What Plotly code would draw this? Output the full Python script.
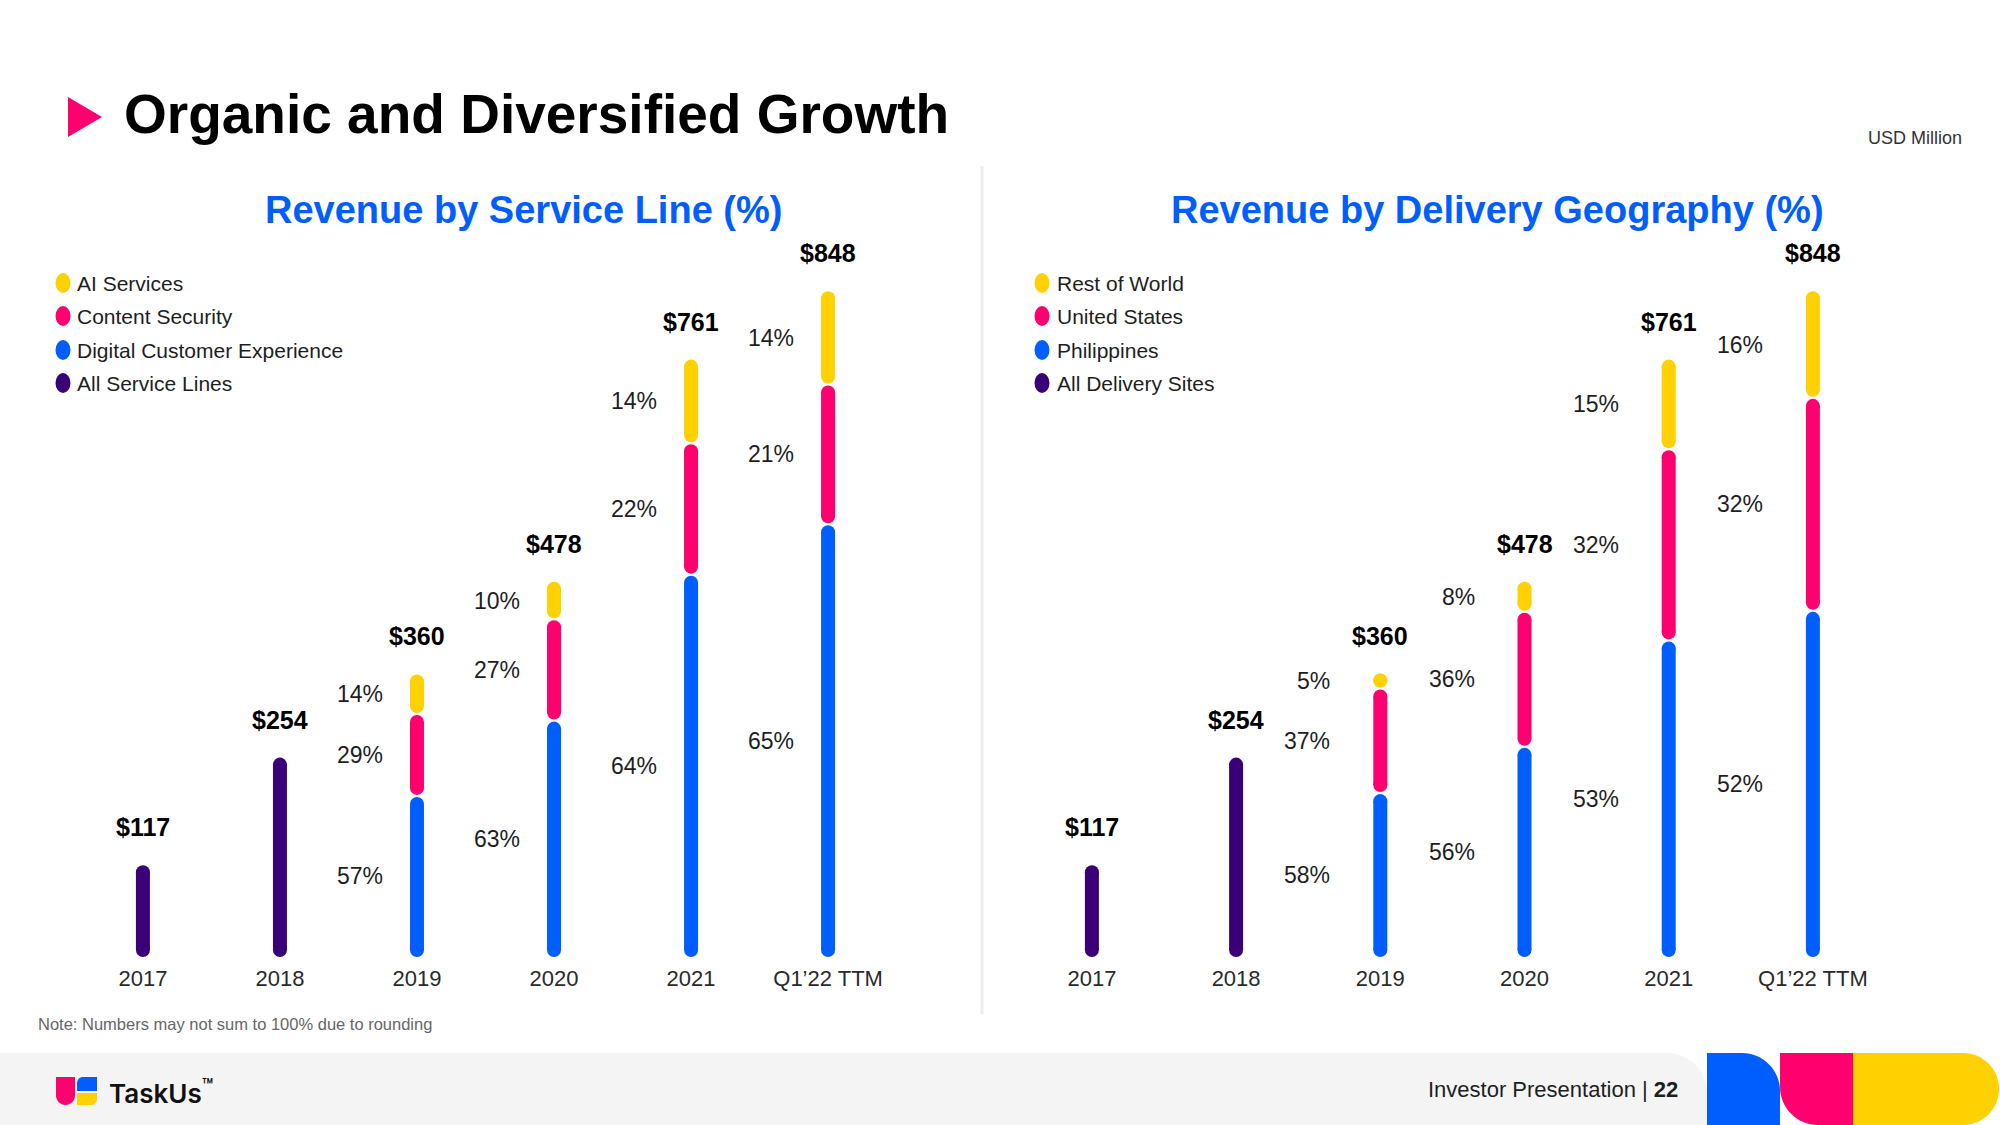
import plotly.graph_objects as go

W, H = 2000, 1125

# ---------------- data ----------------
years = ["2017", "2018", "2019", "2020", "2021", "Q1’22 TTM"]
revenue = [117, 254, 360, 478, 761, 848]  # USD million

# Revenue by service line (% of revenue), stacked bottom -> top
svc_dcx = [None, None, 57, 63, 64, 65]   # Digital Customer Experience
svc_cs = [None, None, 29, 27, 22, 21]    # Content Security
svc_ai = [None, None, 14, 10, 14, 14]    # AI Services
svc_all = [100, 100, None, None, None, None]  # All Service Lines

# Revenue by delivery geography (% of revenue), stacked bottom -> top
geo_ph = [None, None, 58, 56, 53, 52]    # Philippines
geo_us = [None, None, 37, 36, 32, 32]    # United States
geo_row = [None, None, 5, 8, 15, 16]     # Rest of World
geo_all = [100, 100, None, None, None, None]  # All Delivery Sites

svc_legend = ["AI Services", "Content Security", "Digital Customer Experience", "All Service Lines"]
geo_legend = ["Rest of World", "United States", "Philippines", "All Delivery Sites"]

# ---------------- style ----------------
BLUE = "#005EFF"
PINK = "#FF006E"
YELLOW = "#FFD100"
PURPLE = "#3A0078"
TXT = "#1e1e1e"
FONT = "Liberation Sans, Arial, Helvetica, sans-serif"

BAR_PX = 14                    # pill thickness in pixels
Y_TOP_PX, Y_BOT_PX = 257, 957  # plot area (pixels)
Y_MAX = 700 / 0.785            # data units shown in plot height
UNIT_PX = (Y_BOT_PX - Y_TOP_PX) / Y_MAX
R = (BAR_PX / 2) / UNIT_PX     # pill cap radius in data units
GAP = 2.0 / UNIT_PX            # white gap between stacked segments


def px_x(x):
    return x / W


def px_y(y):
    return 1 - y / H


def rrect(x0, y0, x1, y1, rtl=0, rtr=0, rbr=0, rbl=0):
    k = 0.5523
    P = lambda x, y: f"{px_x(x):.5f},{px_y(y):.5f}"
    s = f"M {P(x0 + rtl, y0)} L {P(x1 - rtr, y0)} "
    if rtr:
        s += f"C {P(x1 - rtr + k * rtr, y0)} {P(x1, y0 + rtr - k * rtr)} {P(x1, y0 + rtr)} "
    s += f"L {P(x1, y1 - rbr)} "
    if rbr:
        s += f"C {P(x1, y1 - rbr + k * rbr)} {P(x1 - rbr + k * rbr, y1)} {P(x1 - rbr, y1)} "
    s += f"L {P(x0 + rbl, y1)} "
    if rbl:
        s += f"C {P(x0 + rbl - k * rbl, y1)} {P(x0, y1 - rbl + k * rbl)} {P(x0, y1 - rbl)} "
    s += f"L {P(x0, y0 + rtl)} "
    if rtl:
        s += f"C {P(x0, y0 + rtl - k * rtl)} {P(x0 + rtl - k * rtl, y0)} {P(x0 + rtl, y0)} "
    return s + "Z"


fig = go.Figure()
annotations = []
shapes = []


def add_chart(xa, ya, series, lab_shift):
    cum = [0.0] * len(years)
    for pcts, color, is_total in series:
        xs, ys = [], []
        for i, p in enumerate(pcts):
            if p is None:
                continue
            tot = revenue[i]
            lo = cum[i]
            hi = lo + tot * p / 100.0
            cum[i] = hi
            lo_t = lo + (GAP / 2 if lo > 0.01 else 0)
            hi_t = hi - (GAP / 2 if hi < tot - 0.01 else 0)
            a = lo_t + R
            b = max(hi_t - R, a)
            xs += [years[i], years[i], None]
            ys += [a, b, None]
            if not is_total:
                annotations.append(dict(
                    x=i, y=(lo + hi) / 2, xref=xa, yref=ya,
                    text=f"{p}%", showarrow=False, xanchor="right", yanchor="middle",
                    xshift=lab_shift, font=dict(size=23, color=TXT, family=FONT)))
        fig.add_trace(go.Scatter(
            x=xs, y=ys, mode="lines+markers", connectgaps=False,
            line=dict(color=color, width=BAR_PX),
            marker=dict(color=color, size=BAR_PX, line=dict(width=0)),
            xaxis=xa, yaxis=ya, showlegend=False, hoverinfo="skip"))
    for i, rev in enumerate(revenue):
        annotations.append(dict(
            x=i, y=rev, xref=xa, yref=ya, text=f"<b>${rev}</b>",
            showarrow=False, xanchor="center", yanchor="bottom", yshift=22,
            font=dict(size=25, color="#000", family=FONT)))


add_chart("x", "y",
          [(svc_dcx, BLUE, False), (svc_cs, PINK, False), (svc_ai, YELLOW, False), (svc_all, PURPLE, True)],
          -32)
add_chart("x2", "y2",
          [(geo_ph, BLUE, False), (geo_us, PINK, False), (geo_row, YELLOW, False), (geo_all, PURPLE, True)],
          -48)

# ---------------- legends ----------------
leg_cols = [YELLOW, PINK, BLUE, PURPLE]
leg_rows = [283, 316, 350, 383]
for names, mx, tx in ((svc_legend, 63, 75), (geo_legend, 1042, 1055)):
    for name, col, ry in zip(names, leg_cols, leg_rows):
        shapes.append(dict(type="circle", xref="paper", yref="paper",
                           x0=px_x(mx - 7.5), x1=px_x(mx + 7.5), y0=px_y(ry + 10), y1=px_y(ry - 10),
                           fillcolor=col, line=dict(width=0)))
        annotations.append(dict(x=px_x(tx), y=px_y(ry), xref="paper", yref="paper",
                                text=name, showarrow=False, xanchor="left", yanchor="middle",
                                font=dict(size=21, color=TXT, family=FONT)))

# ---------------- titles & texts ----------------
annotations += [
    dict(x=px_x(122), y=px_y(114), xref="paper", yref="paper", text="<b>Organic and Diversified Growth</b>",
         showarrow=False, xanchor="left", yanchor="middle", font=dict(size=55, color="#000", family=FONT)),
    dict(x=px_x(523), y=px_y(210), xref="paper", yref="paper", text="<b>Revenue by Service Line (%)</b>",
         showarrow=False, xanchor="center", yanchor="middle", font=dict(size=38, color=BLUE, family=FONT)),
    dict(x=px_x(1497), y=px_y(210), xref="paper", yref="paper", text="<b>Revenue by Delivery Geography (%)</b>",
         showarrow=False, xanchor="center", yanchor="middle", font=dict(size=38, color=BLUE, family=FONT)),
    dict(x=px_x(1915), y=px_y(138), xref="paper", yref="paper", text="USD Million",
         showarrow=False, xanchor="center", yanchor="middle", font=dict(size=18, color="#333", family=FONT)),
    dict(x=px_x(36), y=px_y(1024), xref="paper", yref="paper", text="Note: Numbers may not sum to 100% due to rounding",
         showarrow=False, xanchor="left", yanchor="middle", font=dict(size=16.5, color="#666", family=FONT)),
    dict(x=px_x(1426), y=px_y(1089), xref="paper", yref="paper", text="Investor Presentation | <b>22</b>",
         showarrow=False, xanchor="left", yanchor="middle", font=dict(size=22, color=TXT, family=FONT)),
    dict(x=px_x(107), y=px_y(1091), xref="paper", yref="paper", text="TaskUs<sup>™</sup>",
         showarrow=False, xanchor="left", yanchor="middle",
         font=dict(size=26, color="#111", family="Inter, sans-serif", weight=600)),
]

# ---------------- decorative shapes ----------------
def pshape(path, color):
    return dict(type="path", xref="paper", yref="paper", path=path, fillcolor=color,
                line=dict(width=0), layer="below")


tri = f"M {px_x(68)},{px_y(97)} L {px_x(102)},{px_y(117)} L {px_x(68)},{px_y(137)} Z"
shapes += [
    pshape(tri, PINK),
    dict(type="line", xref="paper", yref="paper", x0=px_x(982), x1=px_x(982), y0=px_y(166), y1=px_y(1014),
         line=dict(color="#EDEDED", width=3), layer="below"),
    pshape(rrect(-5, 1053, 1707, 1160, 0, 40, 40, 0), "#F4F4F4"),
    pshape(rrect(1707, 1053, 1780, 1130, 0, 38, 0, 0), BLUE),
    pshape(rrect(1780, 1053, 1853, 1125, 0, 0, 0, 38), PINK),
    pshape(rrect(1853, 1053, 1999, 1125, 0, 36, 36, 0), YELLOW),
    # TaskUs logo
    pshape(rrect(56, 1077, 75, 1105, 0, 0, 9.5, 9.5), PINK),
    pshape(rrect(77, 1077, 97, 1091, 6, 0, 0, 0), BLUE),
    pshape(rrect(77, 1093, 97, 1105, 0, 0, 6, 0), YELLOW),
]

# ---------------- axes ----------------
Y_DOM = [px_y(Y_BOT_PX), px_y(Y_TOP_PX)]
Y_RANGE = [0, Y_MAX]

xcommon = dict(type="category", categoryorder="array", categoryarray=years, range=[-0.5, 5.5],
               showgrid=False, zeroline=False, showline=False, ticks="",
               tickfont=dict(size=22, color="#2a2a2a", family=FONT), fixedrange=True,
               ticklabelstandoff=6)
ycommon = dict(range=Y_RANGE, domain=Y_DOM, visible=False, fixedrange=True, showgrid=False, zeroline=False)

fig.update_layout(
    width=W, height=H, margin=dict(l=0, r=0, t=0, b=0),
    paper_bgcolor="white", plot_bgcolor="rgba(0,0,0,0)",
    showlegend=False,
    font=dict(family=FONT, color=TXT),
    xaxis=dict(domain=[px_x(74.4), px_x(896.6)], anchor="y", **xcommon),
    yaxis=dict(anchor="x", **ycommon),
    xaxis2=dict(domain=[px_x(1019.8), px_x(1885)], anchor="y2", **xcommon),
    yaxis2=dict(anchor="x2", **ycommon),
    annotations=annotations, shapes=shapes,
)

fig.write_html("out.html")
